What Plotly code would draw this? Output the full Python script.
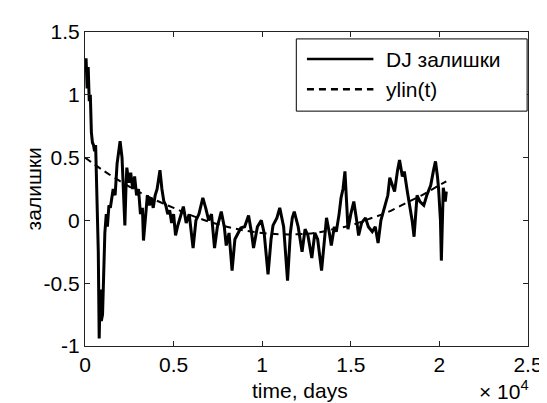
import plotly.graph_objects as go

# DJ residuals (time in days, value)
dj_t = [0, 60, 120, 180, 240, 300, 360, 420, 480, 540, 600, 650, 700, 750, 800, 860, 920, 990,
        1050, 1120, 1200, 1264, 1350, 1430, 1590, 1700, 1810, 1920, 1980, 2090, 2200, 2250, 2310,
        2360, 2470, 2580, 2690, 2800, 2910, 3020, 3130, 3240, 3300, 3410, 3520, 3630, 3740, 3850,
        3960, 4070, 4180, 4230, 4340, 4450, 4560, 4670, 4780, 4890, 5000, 5110, 5220, 5330, 5440,
        5550, 5710, 5880, 6100, 6260, 6430, 6650, 6810, 6980, 7140, 7310, 7470, 7690, 7860, 7970,
        8130, 8300, 8460, 8630, 8790, 9010, 9230, 9400, 9510, 9730, 9950, 10110, 10330, 10500,
        10610, 10830, 10990, 11210, 11430, 11590, 11700, 11810, 12030, 12250, 12420, 12580, 12800,
        12970, 13130, 13350, 13520, 13630, 13790, 13900, 14070, 14180, 14340, 14450, 14560, 14670,
        14780, 14840, 15000, 15170, 15330, 15440, 15610, 15830, 15990, 16210, 16380, 16540, 16700,
        16920, 17090, 17200, 17360, 17470, 17640, 17750, 17910, 18020, 18190, 18350, 18460, 18570,
        18740, 18900, 19120, 19290, 19510, 19670, 19780, 19890, 19950, 20060, 20110, 20170, 20220,
        20330, 20390]
dj_v = [1.20, 1.29, 1.05, 1.22, 0.95, 1.00, 0.70, 0.62, 0.60, 0.55, 0.60, 0.30, 0.10, -0.25, -0.94,
        -0.55, -0.80, -0.75, -0.45, -0.10, 0.05, -0.05, 0.12, 0.10, 0.25, 0.20, 0.45, 0.55, 0.63,
        0.50, 0.20, -0.04, 0.25, 0.42, 0.30, 0.38, 0.25, 0.35, 0.20, 0.25, 0.05, 0.10, -0.16, 0.05,
        0.20, 0.12, 0.18, 0.10, 0.20, 0.25, 0.38, 0.40, 0.25, 0.15, 0.12, 0.05, 0.08, -0.02, 0.05,
        -0.12, -0.05, 0.00, 0.05, 0.11, -0.02, 0.05, -0.22, 0.00, 0.05, 0.18, 0.10, 0.00, 0.05,
        -0.22, -0.05, 0.07, -0.05, -0.20, -0.10, -0.40, -0.15, -0.10, -0.06, -0.05, 0.04, -0.10,
        -0.22, -0.05, 0.00, -0.10, -0.43, -0.15, -0.04, 0.02, 0.10, -0.05, -0.48, -0.10, 0.02, 0.07,
        -0.05, -0.25, -0.07, -0.12, -0.30, -0.10, -0.15, -0.40, -0.10, 0.02, -0.10, -0.20, -0.05,
        -0.09, 0.05, 0.18, 0.25, 0.39, 0.10, -0.07, 0.05, 0.15, 0.00, -0.12, -0.02, 0.02, -0.05,
        -0.09, -0.05, -0.18, 0.00, 0.12, 0.20, 0.34, 0.28, 0.23, 0.40, 0.48, 0.35, 0.39, 0.23, 0.10,
        0.00, -0.13, 0.20, 0.15, 0.12, 0.20, 0.28, 0.40, 0.47, 0.35, 0.26, 0.00, -0.32, 0.00, 0.26,
        0.15, 0.23]

# Trend ylin(t)
lin_t = [0, 1000, 2000, 3000, 4000, 5000, 6000, 7000, 8000, 9000, 10000, 11000, 12000, 13000,
         14000, 15000, 16000, 17000, 18000, 19000, 20000, 20390]
lin_v = [0.50, 0.40, 0.31, 0.23, 0.16, 0.10, 0.04, -0.01, -0.05, -0.08, -0.10, -0.11, -0.11,
         -0.10, -0.07, -0.04, 0.01, 0.06, 0.13, 0.20, 0.28, 0.31]

x_tickvals = [0, 5000, 10000, 15000, 20000, 25000]
x_ticktext = ["0", "0.5", "1", "1.5", "2", "2.5"]
y_tickvals = [-1, -0.5, 0, 0.5, 1, 1.5]
y_ticktext = ["-1", "-0.5", "0", "0.5", "1", "1.5"]

series_names = ["DJ залишки", "ylin(t)"]
x_title = "time, days"
y_title = "залишки"

FONT = "Liberation Sans, Arial, sans-serif"
FS = 21
DASH = "7px,5px"

fig = go.Figure()
fig.add_trace(go.Scatter(x=dj_t, y=dj_v, mode="lines", name=series_names[0],
                         line=dict(color="black", width=3), showlegend=False))
fig.add_trace(go.Scatter(x=lin_t, y=lin_v, mode="lines", name=series_names[1],
                         line=dict(color="black", width=2, dash=DASH), line_shape="spline",
                         showlegend=False))

axis_common = dict(showgrid=False, zeroline=False, showline=True, linecolor="#222",
                   linewidth=1, mirror="allticks", ticks="inside", ticklen=5,
                   tickcolor="#222", tickfont=dict(family=FONT, size=FS, color="black"))

fig.update_xaxes(range=[0, 25000], tickvals=x_tickvals, ticktext=x_ticktext, **axis_common)
fig.update_yaxes(range=[-1, 1.5], tickvals=y_tickvals, ticktext=y_ticktext, **axis_common)

tfont = dict(family=FONT, size=FS, color="black")
# axis titles
fig.add_annotation(xref="paper", yref="paper", x=0.486, y=-0.142, xanchor="center",
                   yanchor="middle", text=x_title, showarrow=False, font=tfont)
fig.add_annotation(xref="paper", yref="paper", x=-0.1165, y=0.50, xanchor="center",
                   yanchor="middle", text=y_title, textangle=-90, showarrow=False, font=tfont)
# exponent
fig.add_annotation(xref="paper", yref="paper", x=1.006, y=-0.187, xanchor="right",
                   yanchor="bottom", text="× 10<sup>4</sup>", showarrow=False, font=tfont)

# legend box (custom, MATLAB style)
fig.add_shape(type="rect", xref="paper", yref="paper", x0=0.477, x1=0.998, y0=0.748, y1=0.978,
              line=dict(color="black", width=1), fillcolor="white", layer="above")
fig.add_shape(type="line", xref="paper", yref="paper", x0=0.501, x1=0.651, y0=0.914, y1=0.914,
              line=dict(color="black", width=2.5), layer="above")
fig.add_shape(type="line", xref="paper", yref="paper", x0=0.501, x1=0.651, y0=0.818, y1=0.818,
              line=dict(color="black", width=2.5, dash=DASH), layer="above")
fig.add_annotation(xref="paper", yref="paper", x=0.674, y=0.914, xanchor="left",
                   yanchor="middle", text=series_names[0], showarrow=False, font=tfont)
fig.add_annotation(xref="paper", yref="paper", x=0.674, y=0.818, xanchor="left",
                   yanchor="middle", text=series_names[1], showarrow=False, font=tfont)

fig.update_layout(
    width=547, height=403,
    margin=dict(l=77, r=15, t=24, b=65),
    paper_bgcolor="white", plot_bgcolor="white",
    font=dict(family=FONT, size=FS, color="black"),
    showlegend=False,
)

fig.write_html("out.html")
